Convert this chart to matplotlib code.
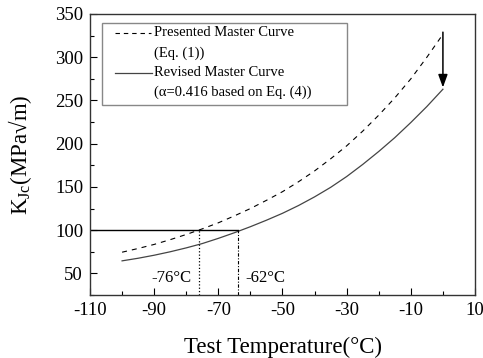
import matplotlib
matplotlib.use('Agg')
import matplotlib.pyplot as plt
from matplotlib.patches import Rectangle
from matplotlib.ticker import MultipleLocator

plt.rcParams['font.family'] = ['Liberation Serif', 'DejaVu Serif']
plt.rcParams['mathtext.fontset'] = 'custom'
plt.rcParams['mathtext.rm'] = 'Liberation Serif'
plt.rcParams['axes.unicode_minus'] = False

# values
temps = [-100, -95, -90, -85, -80, -75, -70, -65, -60, -55, -50,
         -45, -40, -35, -30, -25, -20, -15, -10, -5, 0]
k_presented = [74.5, 78.8, 83.5, 89, 95, 101.5, 108.5, 116.5, 125, 134.5, 144.5,
               156, 168.5, 182.5, 197.5, 214.5, 233, 253, 275, 300, 326.5]
k_revised = [64.5, 67.5, 71, 75, 79.5, 84.5, 90.5, 97, 104, 111.5, 119.5,
             128.5, 138.5, 149.5, 162, 176, 191, 207, 224.5, 243, 263]
x_ticks = [-110, -90, -70, -50, -30, -10, 10]
y_ticks = [50, 100, 150, 200, 250, 300, 350]
k_ref = 100
t0_presented = -76
t0_revised = -64
arrow_from = (0, 329)
arrow_to = (0, 265)

W, H = 483, 358
fig = plt.figure(figsize=(W / 100, H / 100), dpi=100)
ax = fig.add_axes([90 / W, 1 - 295 / H, 385 / W, 281 / H])

ax.plot(temps, k_presented, color='k', lw=0.8, dashes=(4.5, 4.5))
ax.plot(temps, k_revised, color='#444444', lw=0.9)

# reference lines at 100 MPa√m
ax.plot([-110, t0_revised], [k_ref, k_ref], color='k', lw=1.0)
ax.plot([t0_presented, t0_presented], [25, k_ref], color='k', lw=0.9, ls=':')
ax.plot([t0_revised, t0_revised], [25, k_ref], color='k', lw=0.8,
        ls=(0, (3, 1.5, 1, 1.5)))
ax.text(-78.3, 45, '-76°C', fontsize=12, ha='right', va='center')
ax.text(-61.6, 45, '-62°C', fontsize=12, ha='left', va='center')

ax.annotate('', xy=arrow_to, xytext=arrow_from,
            arrowprops=dict(arrowstyle='-|>,head_width=0.4,head_length=1.1',
                            color='k', lw=1.1, mutation_scale=7,
                            shrinkA=0, shrinkB=0))

ax.set_xlim(-110, 10)
ax.set_ylim(25, 350)
ax.set_xticks(x_ticks)
ax.set_yticks(y_ticks)
ax.xaxis.set_minor_locator(MultipleLocator(10))
ax.yaxis.set_minor_locator(MultipleLocator(25))
ax.tick_params(which='both', direction='in', labelsize=13.5, pad=5)
ax.tick_params(which='major', length=5, width=0.8)
ax.tick_params(which='minor', length=3, width=0.8)
for s in ax.spines.values():
    s.set_color('#333333')
    s.set_linewidth(1.0)

ax.set_xlabel('Test Temperature(°C)', fontsize=16.5)
ax.set_ylabel(r'K$_{\mathrm{Jc}}$(MPa√m)', fontsize=16.5)
ax.xaxis.set_label_coords(0.5, -0.15)
ax.yaxis.set_label_coords(-0.145, 0.5)


# legend box drawn in figure pixels
def fx(px):
    return px / W


def fy(py):
    return 1 - py / H


fig.patches.append(Rectangle((fx(101.7), fy(105)), fx(346.7) - fx(101.7),
                             fy(23.3) - fy(105), transform=fig.transFigure,
                             fill=False, edgecolor='#888888', lw=1.0))
fig.add_artist(plt.Line2D([fx(115), fx(151)], [fy(33), fy(33)], color='k',
                          lw=0.8, dashes=(4, 3.5)))
fig.add_artist(plt.Line2D([fx(115), fx(152)], [fy(73), fy(73)],
                          color='#444444', lw=0.9))
leg_rows = [(33, 'Presented Master Curve'), (53, '(Eq. (1))'),
            (73, 'Revised Master Curve'), (92, '(α=0.416 based on Eq. (4))')]
for py, txt in leg_rows:
    fig.text(fx(154), fy(py), txt, fontsize=10.5, ha='left', va='center')

fig.savefig('out.png', dpi=100, facecolor='white')
